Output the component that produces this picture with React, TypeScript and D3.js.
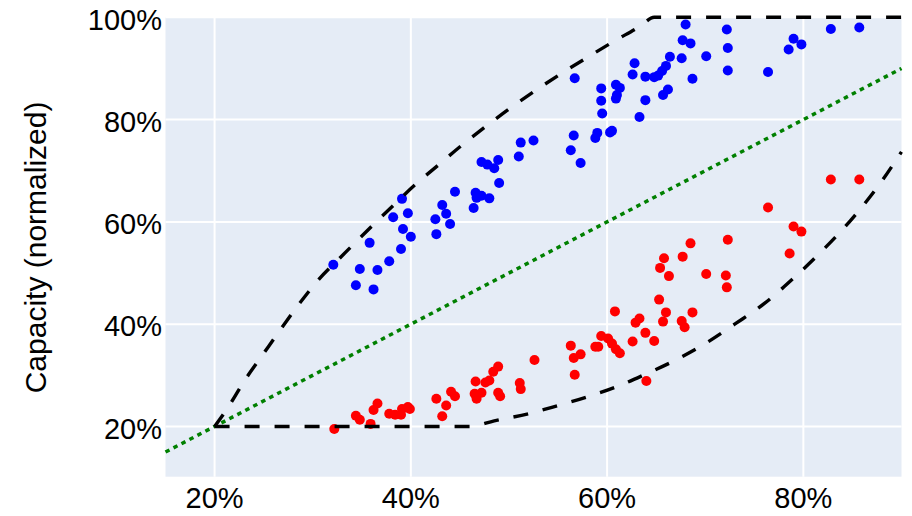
import React from "react";
import * as d3 from "d3";

// Data in percent
const blueX = [32.1,34.4,34.8,36.2,36.6,37.8,39.0,35.8,38.2,39.1,39.7,39.2,40.0,42.5,42.6,43.2,43.6,44.0,44.5,46.4,46.6,46.7,47.2,48.0,47.2,47.8,48.5,48.9,49.0,51.0,51.2,52.5,56.7,56.6,56.3,57.3,58.8,59.0,60.3,60.5,59.4,59.4,59.5,60.9,61.3,61.0,60.9,63.3,63.9,62.6,62.8,63.9,64.8,65.2,65.6,66.0,65.7,66.2,66.4,67.6,68.7,70.1,67.7,68.5,68.0,72.2,72.3,72.3,76.4,78.5,79.0,79.8,82.8,85.7];
const blueY = [51.6,47.6,50.8,46.8,50.6,52.3,54.7,55.9,60.9,64.5,61.7,58.6,57.1,60.5,57.6,63.3,61.6,59.6,65.9,62.7,65.7,64.7,65.1,64.6,71.7,71.2,70.5,72.1,67.6,72.8,75.5,75.9,88.1,76.9,74.0,71.5,76.4,77.4,77.5,77.8,86.1,83.7,81.2,86.8,86.2,84.8,84.1,80.5,83.8,88.8,91.0,88.4,88.3,88.6,89.5,90.5,84.8,85.9,92.3,92.0,88.0,92.4,95.5,94.9,98.6,97.6,94.0,89.6,89.3,93.7,95.8,94.7,97.7,98.0];
const redX = [32.2,34.4,34.8,35.9,36.2,36.6,37.8,38.4,39.0,39.1,39.7,39.9,42.6,43.6,43.2,44.1,44.5,46.6,46.5,46.7,47.2,47.6,48.0,48.4,48.9,48.9,49.1,51.1,51.2,52.6,56.3,56.6,57.3,56.7,58.8,59.4,59.1,60.1,60.5,60.9,61.3,60.8,62.6,62.9,63.3,63.9,64.8,64.0,65.3,65.7,66.0,67.6,67.9,68.7,65.8,65.4,66.3,67.7,68.5,70.1,72.1,72.2,72.3,76.4,78.6,79.0,79.8,82.8,85.7];
const redY = [19.5,22.1,21.3,20.5,23.2,24.5,22.5,22.3,22.3,23.4,23.8,23.4,25.4,24.1,22.0,26.8,25.9,28.8,26.4,25.4,26.6,28.6,29.0,30.7,31.7,26.6,25.9,28.5,27.3,33.0,35.8,33.4,34.1,30.1,35.6,37.7,35.6,37.2,36.2,35.1,34.3,42.5,36.6,40.3,41.1,38.3,36.7,28.9,44.8,40.5,42.3,40.6,39.4,42.3,52.9,51.0,49.4,53.2,55.8,49.8,49.5,47.2,56.5,62.8,53.8,59.1,58.1,68.3,68.3];
const upperX = [20,21.4,23.1,24.9,26.7,28.4,30.6,32.8,36.0,38.2,40.4,42.8,45.2,47.6,50.1,52.8,55.4,58.1,60.6,63.4,64.8,90];
const upperY = [20,23.8,29.1,34.0,38.9,43.4,48.7,53.0,59.1,63.2,67.2,71.1,75.0,78.6,82.2,85.8,89.1,92.3,95.2,98.3,100,100];
const lowerX = [20,46,48.5,52,55,58,61,64,67,70,73,76,79,82,85,88,90];
const lowerY = [20,20,21.1,22.5,24.1,25.8,27.8,30.3,33,36.2,40,44,49,54.5,60.7,68,73.7];
const diagX = [15, 90];
const xTicks = [20, 40, 60, 80];
const yTicks = [20, 40, 60, 80, 100];
const yTitle = "Capacity (normalized)";

const W = 912, H = 516;
const L = 165.5, R = 901.5, T = 17.3, B = 477.6;
const font = "'Liberation Sans', Arial, Helvetica, sans-serif";

export default function App() {
  const x = d3.scaleLinear().domain([15, 90]).range([L, R]);
  const y = d3.scaleLinear().domain([10, 100]).range([B, T]);
  const line = d3.line<[number, number]>().x(d => x(d[0])).y(d => y(d[1])).curve(d3.curveMonotoneX);
  const upper = line(upperX.map((v, i) => [v, upperY[i]] as [number, number])) || "";
  const lower = line(lowerX.map((v, i) => [v, lowerY[i]] as [number, number])) || "";
  const diag = d3.line<number>().x(d => x(d)).y(d => y(d))(diagX) || "";
  return (
    <svg width={W} height={H} style={{ position: "absolute", left: 0, top: 0 }} fontFamily={font}>
      <rect x={L} y={T} width={R - L} height={B - 0.9 - T} fill="#E5ECF6" />
      {xTicks.map(t => (
        <line key={"gx" + t} x1={x(t)} x2={x(t)} y1={T} y2={B - 0.9} stroke="#fff" strokeWidth={2} />
      ))}
      {yTicks.map(t => (
        <line key={"gy" + t} x1={L} x2={R} y1={y(t)} y2={y(t)} stroke="#fff" strokeWidth={2} />
      ))}
      {blueX.map((v, i) => (
        <circle key={"b" + i} cx={x(v)} cy={y(blueY[i])} r={5} fill="#0000ff" />
      ))}
      {redX.map((v, i) => (
        <circle key={"r" + i} cx={x(v)} cy={y(redY[i])} r={5} fill="#ff0000" />
      ))}
      <path d={diag} fill="none" stroke="#008000" strokeWidth={3.5} strokeDasharray="4.5,4.5" />
      <path d={upper} fill="none" stroke="#000" strokeWidth={3.4} strokeDasharray="15,15" />
      <path d={lower} fill="none" stroke="#000" strokeWidth={3.4} strokeDasharray="15,15" />
      {xTicks.map(t => (
        <text key={"tx" + t} x={x(t)} y={508} textAnchor="middle" fontSize={29} fill="#000">{t}%</text>
      ))}
      {yTicks.map(t => (
        <text key={"ty" + t} x={162} y={y(t) + 12.3} textAnchor="end" fontSize={29} fill="#000">{t}%</text>
      ))}
      <text transform={`translate(45.5,${(T + B) / 2}) rotate(-90)`} textAnchor="middle" fontSize={30} fill="#000">{yTitle}</text>
    </svg>
  );
}
